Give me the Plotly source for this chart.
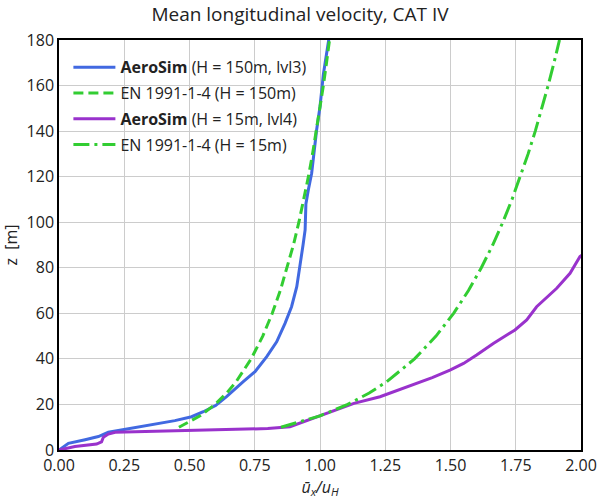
import plotly.graph_objects as go

# AeroSim, H = 150 m, lvl3
aero150_u = [0, 0.036, 0.10, 0.151, 0.189, 0.253, 0.35, 0.444, 0.508, 0.553, 0.60, 0.642,
             0.706, 0.751, 0.796, 0.834, 0.866, 0.891, 0.911, 0.923, 0.935, 0.943, 0.946,
             0.955, 0.968, 0.987, 1.0, 1.013, 1.032, 1.036]
aero150_z = [0, 2.9, 4.5, 5.9, 7.8, 9.1, 11.0, 12.9, 14.6, 16.8, 19.5, 23.4,
             30, 34.4, 41, 47.5, 55.6, 62.9, 71.7, 82, 90, 96.6, 108,
             114, 121.5, 140.5, 150.7, 165, 180, 182]

# EN 1991-1-4, H = 150 m
en150_z = [10, 15, 20, 25, 30, 40, 50, 60, 70, 80, 90, 100, 110, 120, 130, 140, 150, 160, 170, 180]
en150_u = [0.4595, 0.5405, 0.5979, 0.6424, 0.6788, 0.7362, 0.7807, 0.8171, 0.8479, 0.8745,
           0.8981, 0.9191, 0.9381, 0.9555, 0.9714, 0.9862, 1.0000, 1.0129, 1.0250, 1.0364]

# AeroSim, H = 15 m, lvl4
aero15_u = [0, 0.061, 0.144, 0.163, 0.170, 0.189, 0.215, 0.444, 0.732, 0.80, 0.885, 0.95,
            1.038, 1.13, 1.23, 1.30, 1.358, 1.43, 1.498, 1.55, 1.600, 1.664, 1.747, 1.792,
            1.830, 1.87, 1.907, 1.958, 1.996, 2.01]
aero15_z = [0, 1.5, 2.6, 3.6, 5.6, 7.0, 7.8, 8.3, 9.1, 9.4, 10.2, 13.0,
            16.8, 20.5, 23.4, 26.3, 29, 31.8, 35.1, 38.0, 41.7, 46.8, 52.7, 57.1,
            62.9, 67, 71, 77.6, 84.9, 86]

# EN 1991-1-4, H = 15 m
en15_z = [10, 15, 20, 25, 30, 40, 50, 60, 70, 80, 90, 100, 110, 120, 130, 140, 150, 160, 170, 180]
en15_u = [0.8503, 1.0000, 1.1062, 1.1886, 1.2559, 1.3622, 1.4445, 1.5119, 1.5688, 1.6181,
          1.6616, 1.7005, 1.7357, 1.7679, 1.7974, 1.8248, 1.8502, 1.8741, 1.8965, 1.9176]

x_ticks = [0, 0.25, 0.5, 0.75, 1.0, 1.25, 1.5, 1.75, 2.0]
y_ticks = [0, 20, 40, 60, 80, 100, 120, 140, 160, 180]

BLUE = "#4169E1"
GREEN = "#32CD32"
PURPLE = "#9932CC"
FONT = "Open Sans"

fig = go.Figure()
fig.add_trace(go.Scatter(x=aero150_u, y=aero150_z, mode="lines", legendgroup="a",
                         line=dict(color=BLUE, width=3),
                         name="<b>AeroSim</b> (H = 150m, lvl3)"))
fig.add_trace(go.Scatter(x=en150_u, y=en150_z, mode="lines", legendgroup="b",
                         line=dict(color=GREEN, width=3, dash="10px,5px"),
                         name="EN 1991-1-4 (H = 150m)"))
fig.add_trace(go.Scatter(x=aero15_u, y=aero15_z, mode="lines", legendgroup="c",
                         line=dict(color=PURPLE, width=3),
                         name="<b>AeroSim</b> (H = 15m, lvl4)"))
fig.add_trace(go.Scatter(x=en15_u, y=en15_z, mode="lines", legendgroup="d",
                         line=dict(color=GREEN, width=3, dash="16px,5px,3px,5px"),
                         name="EN 1991-1-4 (H = 15m)"))

fig.update_layout(
    width=600, height=500,
    margin=dict(l=59, r=19, t=40, b=50),
    paper_bgcolor="white", plot_bgcolor="white",
    font=dict(family=FONT, size=16, color="#222"),
    title=dict(text="Mean longitudinal velocity, CAT IV", x=0.5, xanchor="center",
               y=0.972, yanchor="middle", yref="container", font=dict(size=19, color="#222")),
    legend=dict(x=0.018, y=0.975, xanchor="left", yanchor="top",
                bgcolor="rgba(255,255,255,0)", font=dict(size=16, color="#222"),
                tracegroupgap=2, itemwidth=42),
    showlegend=True,
)
fig.update_xaxes(range=[0, 2], tickvals=x_ticks, tickformat=".2f", automargin=False,
                 showgrid=True, gridcolor="#cccccc", gridwidth=1,
                 showline=True, linecolor="black", linewidth=1.5, mirror=True,
                 ticks="", zeroline=False, tickfont=dict(size=16),
                 title=dict(text="<i>ū<sub>x</sub>/u<sub>H</sub></i>", standoff=2,
                            font=dict(size=16)))
fig.update_yaxes(range=[0, 180], tickvals=y_ticks, automargin=False,
                 showgrid=True, gridcolor="#cccccc", gridwidth=1,
                 showline=True, linecolor="black", linewidth=1.5, mirror=True,
                 ticks="", zeroline=False, tickfont=dict(size=16),
                 title=dict(text="z  [m]", standoff=6, font=dict(size=16)))

fig.write_html("out.html", config={"displayModeBar": False},
               post_script="document.body.style.margin='0';document.body.style.padding='0';")
